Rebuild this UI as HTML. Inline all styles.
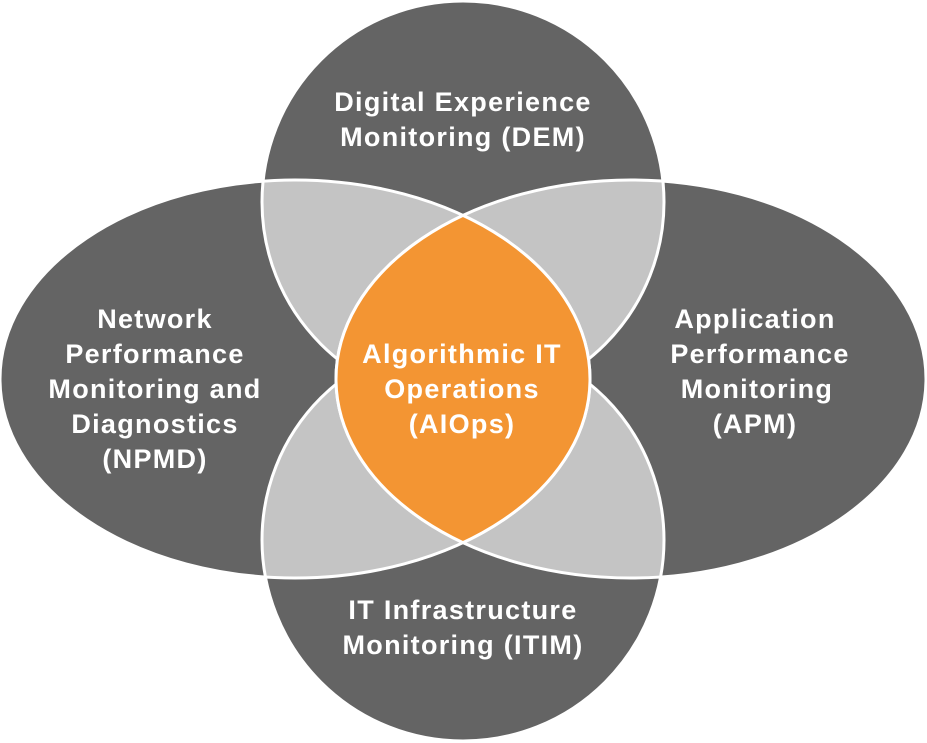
<!DOCTYPE html>
<html><head><meta charset="utf-8"><style>
html,body{margin:0;padding:0;background:#fff;}
svg{display:block;}
text{font-family:"Liberation Sans",sans-serif;font-weight:bold;font-size:27px;letter-spacing:1.3px;fill:#fff;text-anchor:middle;}
</style></head><body>
<svg width="927" height="743" viewBox="0 0 927 743">
<defs>
<clipPath id="cl"><ellipse cx="295" cy="379" rx="295" ry="199"/></clipPath>
<clipPath id="cr"><ellipse cx="631" cy="379" rx="295" ry="199"/></clipPath>
</defs>
<g fill="#646464">
<circle cx="463" cy="202" r="201"/>
<circle cx="463" cy="540" r="201"/>
<ellipse cx="295" cy="379" rx="295" ry="199"/>
<ellipse cx="631" cy="379" rx="295" ry="199"/>
</g>
<g fill="#c4c4c4">
<g clip-path="url(#cl)"><circle cx="463" cy="202" r="201"/><circle cx="463" cy="540" r="201"/></g>
<g clip-path="url(#cr)"><circle cx="463" cy="202" r="201"/><circle cx="463" cy="540" r="201"/></g>
</g>
<g fill="none" stroke="#fff" stroke-width="3">
<circle cx="463" cy="202" r="201"/>
<circle cx="463" cy="540" r="201"/>
<ellipse cx="295" cy="379" rx="295" ry="199"/>
<ellipse cx="631" cy="379" rx="295" ry="199"/>
</g>
<g clip-path="url(#cl)"><ellipse cx="631" cy="379" rx="295" ry="199" fill="#f39533"/></g>
<g fill="none" stroke="#fff" stroke-width="3">
<g clip-path="url(#cl)"><ellipse cx="631" cy="379" rx="295" ry="199"/></g>
<g clip-path="url(#cr)"><ellipse cx="295" cy="379" rx="295" ry="199"/></g>
</g>
<text x="463" y="111">Digital Experience</text>
<text x="463" y="146">Monitoring (DEM)</text>
<text x="155" y="328">Network</text>
<text x="155" y="363">Performance</text>
<text x="155" y="398">Monitoring and</text>
<text x="155" y="433">Diagnostics</text>
<text x="155" y="468">(NPMD)</text>
<text x="755" y="328">Application</text>
<text x="760" y="363">Performance</text>
<text x="757" y="398">Monitoring</text>
<text x="755" y="433">(APM)</text>
<text x="462" y="363">Algorithmic IT</text>
<text x="462" y="398">Operations</text>
<text x="462" y="433">(AIOps)</text>
<text x="463" y="619">IT Infrastructure</text>
<text x="463" y="654">Monitoring (ITIM)</text>
</svg>
</body></html>
